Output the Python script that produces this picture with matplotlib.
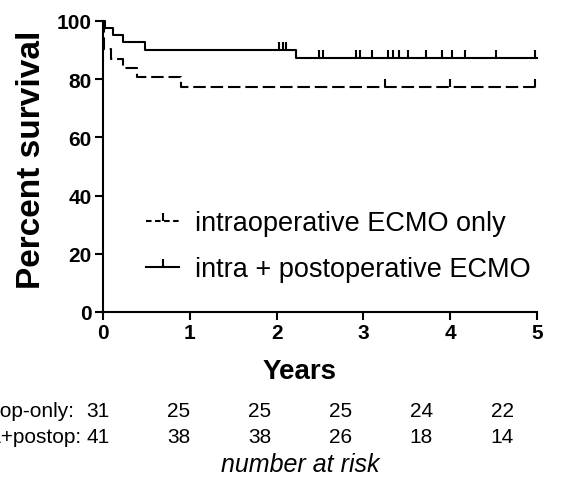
import matplotlib
matplotlib.use("Agg")
import matplotlib.pyplot as plt
from matplotlib.lines import Line2D
import numpy as np

plt.rcParams['font.family'] = ['Liberation Sans', 'DejaVu Sans']
plt.rcParams['lines.scale_dashes'] = False

# Kaplan-Meier steps (years, percent survival)
intra_t = [0, 0.01, 0.09, 0.23, 0.39, 0.90, 5.0]
intra_s = [100, 90.3, 87.1, 83.9, 80.6, 77.4, 77.4]
intra_cens = [3.25, 4.0, 4.98]

post_t = [0, 0.02, 0.12, 0.23, 0.48, 2.22, 5.0]
post_s = [100, 97.6, 95.1, 92.7, 90.2, 87.2, 87.2]
post_cens = [2.03, 2.07, 2.11, 2.49, 2.54, 2.92, 2.96, 3.10, 3.28, 3.34,
             3.41, 3.51, 3.72, 3.91, 4.02, 4.17, 4.53, 4.98]

risk_labels = ['intraop-only:', 'intra+postop:']
risk_intra = [31, 25, 25, 25, 24, 22]
risk_post = [41, 38, 38, 26, 18, 14]

legend_labels = ['intraoperative ECMO only', 'intra + postoperative ECMO']


def surv_at(times, surv, x):
    idx = np.searchsorted(times, x, side='right') - 1
    return np.array(surv)[idx]


fig = plt.figure(figsize=(5.61, 4.85), dpi=100)
ax = fig.add_axes([103 / 561, 1 - 313 / 485, 434 / 561, 291 / 485])

lw = 1.5
dash = (9, 3.5)
ax.step(intra_t, intra_s, where='post', color='black', lw=lw,
        linestyle=(0, dash), clip_on=False)
ax.step(post_t, post_s, where='post', color='black', lw=lw, clip_on=False)
# censor ticks pointing up
ax.plot(intra_cens, surv_at(intra_t, intra_s, intra_cens), linestyle='none',
        marker=2, ms=5.5, mew=lw, color='black', clip_on=False)
ax.plot(post_cens, surv_at(post_t, post_s, post_cens), linestyle='none',
        marker=2, ms=5.5, mew=lw, color='black', clip_on=False)

ax.set_xlim(0, 5)
ax.set_ylim(0, 100)
ax.set_xticks(range(6))
ax.set_yticks(range(0, 101, 20))
for s in ['top', 'right']:
    ax.spines[s].set_visible(False)
for s in ['left', 'bottom']:
    ax.spines[s].set_linewidth(lw)
ax.tick_params(length=6, width=lw, labelsize=15, pad=2)
for lab in ax.get_xticklabels() + ax.get_yticklabels():
    lab.set_fontweight('bold')

ax.set_ylabel('Percent survival', fontsize=24, fontweight='bold')
ax.yaxis.set_label_coords(-0.13, 0.525)

W, H = 561, 485
fig.text(300 / W, 1 - 372 / H, 'Years', ha='center', va='center',
         fontsize=20, fontweight='bold')

handles = [
    Line2D([], [], color='black', lw=lw, linestyle=(0, (4, 2.5)),
           marker=2, ms=5.5, mew=lw),
    Line2D([], [], color='black', lw=lw, marker=2, ms=5.5, mew=lw),
]
ax.legend(handles, legend_labels, loc='upper left', bbox_to_anchor=(0.1, 0.35),
          frameon=False, fontsize=19.5, handlelength=1.2, handletextpad=0.6,
          labelspacing=0.75, borderpad=0, borderaxespad=0, numpoints=1)

# number at risk table (figure pixel layout)
col_x = [98 + 80.8 * k for k in range(6)]
row_y = [412, 438]
label_right = [75, 82]
for r, vals in enumerate([risk_intra, risk_post]):
    fig.text(label_right[r] / W, 1 - row_y[r] / H, risk_labels[r],
             ha='right', va='center', fontsize=15)
    for cx, v in zip(col_x, vals):
        fig.text(cx / W, 1 - row_y[r] / H, str(v), ha='center', va='center',
                 fontsize=15)
fig.text(300 / W, 1 - 465 / H, 'number at risk', ha='center', va='center',
         fontsize=18, style='italic')

fig.savefig('out.png', dpi=100)
